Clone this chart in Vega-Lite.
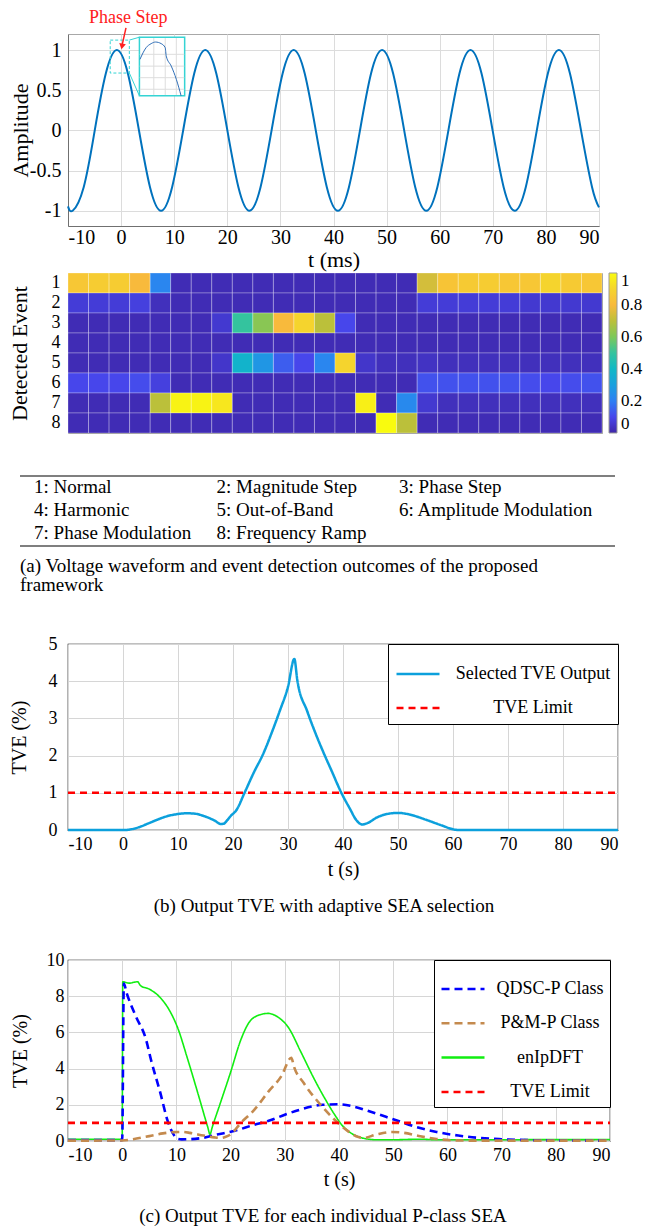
{
  "$schema": "https://vega.github.io/schema/vega-lite/v6.json",
  "padding": {"left": 7, "top": 8, "right": 0, "bottom": 0},
  "background": "white",
  "spacing": 0,
  "bounds": "flush",
  "resolve": {"scale": {"color": "independent", "strokeDash": "independent", "x": "independent", "y": "independent"}, "legend": {"color": "independent", "strokeDash": "independent"}},
  "config": {
    "font": "Liberation Serif",
    "view": {"stroke": null},
    "title": {"font": "Liberation Serif", "fontWeight": "normal", "color": "black"},
    "axis": {"labelFont": "Liberation Serif", "titleFont": "Liberation Serif", "labelColor": "black", "titleColor": "black", "titleFontWeight": "normal", "ticks": false, "domain": false, "gridColor": "#dcdcdc", "gridWidth": 1, "labelExpr": "'' + datum.value"},
    "legend": {"labelFont": "Liberation Serif", "labelColor": "black"}
  },
  "vconcat": [
    {
      "width": 531, "height": 192,
      "view": {"stroke": "#a8a8a8"},
      "layer": [
        {
          "data": {"values": [
            {"t": -10, "a": -0.946}, {"t": -9.125, "a": -1}, {"t": -7.044, "a": -0.707}, {"t": -4.963, "a": 0}, {"t": -2.881, "a": 0.707},
            {"t": -0.8, "a": 1}, {"t": 1.281, "a": 0.707}, {"t": 3.363, "a": 0}, {"t": 5.444, "a": -0.707}, {"t": 7.525, "a": -1},
            {"t": 9.606, "a": -0.707}, {"t": 11.688, "a": 0}, {"t": 13.769, "a": 0.707}, {"t": 15.85, "a": 1}, {"t": 17.931, "a": 0.707},
            {"t": 20.013, "a": 0}, {"t": 22.094, "a": -0.707}, {"t": 24.175, "a": -1}, {"t": 26.256, "a": -0.707}, {"t": 28.338, "a": 0},
            {"t": 30.419, "a": 0.707}, {"t": 32.5, "a": 1}, {"t": 34.581, "a": 0.707}, {"t": 36.663, "a": 0}, {"t": 38.744, "a": -0.707},
            {"t": 40.825, "a": -1}, {"t": 42.906, "a": -0.707}, {"t": 44.988, "a": 0}, {"t": 47.069, "a": 0.707}, {"t": 49.15, "a": 1},
            {"t": 51.231, "a": 0.707}, {"t": 53.313, "a": 0}, {"t": 55.394, "a": -0.707}, {"t": 57.475, "a": -1}, {"t": 59.556, "a": -0.707},
            {"t": 61.638, "a": 0}, {"t": 63.719, "a": 0.707}, {"t": 65.8, "a": 1}, {"t": 67.881, "a": 0.707}, {"t": 69.963, "a": 0},
            {"t": 72.044, "a": -0.707}, {"t": 74.125, "a": -1}, {"t": 76.206, "a": -0.707}, {"t": 78.288, "a": 0}, {"t": 80.369, "a": 0.707},
            {"t": 82.45, "a": 1}, {"t": 84.531, "a": 0.707}, {"t": 86.613, "a": 0}, {"t": 88.694, "a": -0.707}, {"t": 90, "a": -0.958}
          ]},
          "mark": {"type": "line", "interpolate": "natural", "color": "#0072BD", "strokeWidth": 2},
          "encoding": {
            "x": {"field": "t", "type": "quantitative", "scale": {"domain": [-10, 90], "nice": false, "zero": false},
              "axis": {"title": "t (ms)", "values": [-10, 0, 10, 20, 30, 40, 50, 60, 70, 80, 90], "labelFontSize": 20, "labelPadding": 1, "titleFontSize": 22, "titleBaseline": "middle", "titleY": 33, "domain": true, "domainColor": "#707070", "grid": true}},
            "y": {"field": "a", "type": "quantitative", "scale": {"domain": [-1.19, 1.2], "nice": false, "zero": false},
              "axis": {"title": "Amplitude", "values": [-1, -0.5, 0, 0.5, 1], "labelFontSize": 20, "labelPadding": 7, "titleFontSize": 22, "titleX": -48, "titleBaseline": "middle", "domain": true, "domainColor": "#707070", "grid": true}}
          }
        },
        {
          "data": {"values": [{"t": -2.05, "t2": 1.55, "a": 0.714, "a2": 1.124}]},
          "mark": {"type": "rect", "fill": null, "fillOpacity": 0, "stroke": "#35D4D4", "strokeWidth": 1, "strokeDash": [3, 2]},
          "encoding": {"x": {"field": "t", "type": "quantitative"}, "x2": {"field": "t2"}, "y": {"field": "a", "type": "quantitative"}, "y2": {"field": "a2"}}
        },
        {
          "data": {"values": [{"t": 1.55, "t2": 3.45, "a": 1.124, "a2": 1.16}, {"t": 1.55, "t2": 3.45, "a": 0.714, "a2": 0.43}]},
          "mark": {"type": "rule", "stroke": "#35D4D4", "strokeWidth": 1},
          "encoding": {"x": {"field": "t", "type": "quantitative"}, "x2": {"field": "t2"}, "y": {"field": "a", "type": "quantitative"}, "y2": {"field": "a2"}}
        },
        {
          "data": {"values": [{"t": 3.45, "t2": 11.97, "a": 0.43, "a2": 1.16}]},
          "mark": {"type": "rect", "fill": "white", "stroke": "#35D4D4", "strokeWidth": 1.5},
          "encoding": {"x": {"field": "t", "type": "quantitative"}, "x2": {"field": "t2"}, "y": {"field": "a", "type": "quantitative"}, "y2": {"field": "a2"}}
        },
        {
          "data": {"values": [
            {"t": 6.16, "t2": 6.16, "a": 0.44, "a2": 1.15}, {"t": 8.31, "t2": 8.31, "a": 0.44, "a2": 1.15}, {"t": 10.4, "t2": 10.4, "a": 0.44, "a2": 1.15},
            {"t": 3.5, "t2": 11.9, "a": 0.947, "a2": 0.947}, {"t": 3.5, "t2": 11.9, "a": 0.8, "a2": 0.8}, {"t": 3.5, "t2": 11.9, "a": 0.656, "a2": 0.656}, {"t": 3.5, "t2": 11.9, "a": 0.512, "a2": 0.512}
          ]},
          "mark": {"type": "rule", "stroke": "#dddddd", "strokeWidth": 1},
          "encoding": {"x": {"field": "t", "type": "quantitative"}, "x2": {"field": "t2"}, "y": {"field": "a", "type": "quantitative"}, "y2": {"field": "a2"}}
        },
        {
          "data": {"values": [
            {"t": 3.55, "a": 0.884}, {"t": 4.71, "a": 1.03}, {"t": 5.66, "a": 1.08}, {"t": 6.48, "a": 1.1}, {"t": 7.55, "a": 1.08},
            {"t": 8.31, "a": 1.03}, {"t": 8.5, "a": 0.925}, {"t": 9.45, "a": 0.8}, {"t": 10.4, "a": 0.636}, {"t": 11.3, "a": 0.43}
          ]},
          "mark": {"type": "line", "color": "#2F6FB8", "strokeWidth": 1, "interpolate": "monotone"},
          "encoding": {"x": {"field": "t", "type": "quantitative"}, "y": {"field": "a", "type": "quantitative"}}
        },
        {
          "data": {"values": [{"t": 0.92, "t2": 0.22, "a": 1.277, "a2": 1.07}]},
          "mark": {"type": "rule", "stroke": "#FF2020", "strokeWidth": 1.5},
          "encoding": {"x": {"field": "t", "type": "quantitative"}, "x2": {"field": "t2"}, "y": {"field": "a", "type": "quantitative"}, "y2": {"field": "a2"}}
        },
        {
          "data": {"values": [{"t": 0.17, "a": 1.045}]},
          "mark": {"type": "point", "shape": "triangle-down", "filled": true, "color": "#FF2020", "size": 45, "angle": 11, "opacity": 1},
          "encoding": {"x": {"field": "t", "type": "quantitative"}, "y": {"field": "a", "type": "quantitative"}}
        },
        {
          "data": {"values": [{"t": 1.36, "a": 1.4, "label": "Phase Step"}]},
          "mark": {"type": "text", "color": "#FF2020", "fontSize": 18, "font": "Liberation Serif", "baseline": "middle", "align": "center"},
          "encoding": {"x": {"field": "t", "type": "quantitative"}, "y": {"field": "a", "type": "quantitative"}, "text": {"field": "label"}}
        }
      ]
    },
    {"width": 10, "height": 47, "data": {"values": [{}]}, "mark": {"type": "text", "text": ""}},
    {
      "width": 534, "height": 160,
      "view": {"stroke": "#999999"},
      "data": {"values": [
        {"e":1,"c":1,"v":0.85},{"e":1,"c":2,"v":0.87},{"e":1,"c":3,"v":0.87},{"e":1,"c":4,"v":0.8},{"e":1,"c":5,"v":0.22},{"e":1,"c":6,"v":0.02},{"e":1,"c":7,"v":0.02},{"e":1,"c":8,"v":0.02},{"e":1,"c":9,"v":0.02},{"e":1,"c":10,"v":0.02},{"e":1,"c":11,"v":0.02},{"e":1,"c":12,"v":0.02},{"e":1,"c":13,"v":0.02},{"e":1,"c":14,"v":0.02},{"e":1,"c":15,"v":0.02},{"e":1,"c":16,"v":0.02},{"e":1,"c":17,"v":0.02},{"e":1,"c":18,"v":0.74},{"e":1,"c":19,"v":0.84},{"e":1,"c":20,"v":0.86},{"e":1,"c":21,"v":0.87},{"e":1,"c":22,"v":0.85},{"e":1,"c":23,"v":0.85},{"e":1,"c":24,"v":0.9},{"e":1,"c":25,"v":0.86},{"e":1,"c":26,"v":0.85},
        {"e":2,"c":1,"v":0.07},{"e":2,"c":2,"v":0.07},{"e":2,"c":3,"v":0.07},{"e":2,"c":4,"v":0.08},{"e":2,"c":5,"v":0.03},{"e":2,"c":6,"v":0.02},{"e":2,"c":7,"v":0.02},{"e":2,"c":8,"v":0.02},{"e":2,"c":9,"v":0.02},{"e":2,"c":10,"v":0.02},{"e":2,"c":11,"v":0.02},{"e":2,"c":12,"v":0.02},{"e":2,"c":13,"v":0.02},{"e":2,"c":14,"v":0.02},{"e":2,"c":15,"v":0.02},{"e":2,"c":16,"v":0.02},{"e":2,"c":17,"v":0.02},{"e":2,"c":18,"v":0.07},{"e":2,"c":19,"v":0.07},{"e":2,"c":20,"v":0.07},{"e":2,"c":21,"v":0.07},{"e":2,"c":22,"v":0.07},{"e":2,"c":23,"v":0.06},{"e":2,"c":24,"v":0.06},{"e":2,"c":25,"v":0.06},{"e":2,"c":26,"v":0.06},
        {"e":3,"c":1,"v":0.02},{"e":3,"c":2,"v":0.02},{"e":3,"c":3,"v":0.02},{"e":3,"c":4,"v":0.02},{"e":3,"c":5,"v":0.02},{"e":3,"c":6,"v":0.02},{"e":3,"c":7,"v":0.02},{"e":3,"c":8,"v":0.06},{"e":3,"c":9,"v":0.5},{"e":3,"c":10,"v":0.62},{"e":3,"c":11,"v":0.8},{"e":3,"c":12,"v":0.9},{"e":3,"c":13,"v":0.7},{"e":3,"c":14,"v":0.1},{"e":3,"c":15,"v":0.02},{"e":3,"c":16,"v":0.02},{"e":3,"c":17,"v":0.02},{"e":3,"c":18,"v":0.02},{"e":3,"c":19,"v":0.02},{"e":3,"c":20,"v":0.02},{"e":3,"c":21,"v":0.02},{"e":3,"c":22,"v":0.02},{"e":3,"c":23,"v":0.02},{"e":3,"c":24,"v":0.02},{"e":3,"c":25,"v":0.02},{"e":3,"c":26,"v":0.02},
        {"e":4,"c":1,"v":0.02},{"e":4,"c":2,"v":0.02},{"e":4,"c":3,"v":0.02},{"e":4,"c":4,"v":0.02},{"e":4,"c":5,"v":0.02},{"e":4,"c":6,"v":0.02},{"e":4,"c":7,"v":0.02},{"e":4,"c":8,"v":0.02},{"e":4,"c":9,"v":0.02},{"e":4,"c":10,"v":0.02},{"e":4,"c":11,"v":0.02},{"e":4,"c":12,"v":0.02},{"e":4,"c":13,"v":0.02},{"e":4,"c":14,"v":0.02},{"e":4,"c":15,"v":0.02},{"e":4,"c":16,"v":0.02},{"e":4,"c":17,"v":0.02},{"e":4,"c":18,"v":0.02},{"e":4,"c":19,"v":0.02},{"e":4,"c":20,"v":0.02},{"e":4,"c":21,"v":0.02},{"e":4,"c":22,"v":0.02},{"e":4,"c":23,"v":0.02},{"e":4,"c":24,"v":0.02},{"e":4,"c":25,"v":0.02},{"e":4,"c":26,"v":0.02},
        {"e":5,"c":1,"v":0.02},{"e":5,"c":2,"v":0.02},{"e":5,"c":3,"v":0.02},{"e":5,"c":4,"v":0.02},{"e":5,"c":5,"v":0.02},{"e":5,"c":6,"v":0.02},{"e":5,"c":7,"v":0.02},{"e":5,"c":8,"v":0.05},{"e":5,"c":9,"v":0.38},{"e":5,"c":10,"v":0.27},{"e":5,"c":11,"v":0.14},{"e":5,"c":12,"v":0.1},{"e":5,"c":13,"v":0.22},{"e":5,"c":14,"v":0.9},{"e":5,"c":15,"v":0.05},{"e":5,"c":16,"v":0.03},{"e":5,"c":17,"v":0.03},{"e":5,"c":18,"v":0.04},{"e":5,"c":19,"v":0.03},{"e":5,"c":20,"v":0.03},{"e":5,"c":21,"v":0.03},{"e":5,"c":22,"v":0.03},{"e":5,"c":23,"v":0.03},{"e":5,"c":24,"v":0.03},{"e":5,"c":25,"v":0.03},{"e":5,"c":26,"v":0.03},
        {"e":6,"c":1,"v":0.1},{"e":6,"c":2,"v":0.1},{"e":6,"c":3,"v":0.1},{"e":6,"c":4,"v":0.11},{"e":6,"c":5,"v":0.08},{"e":6,"c":6,"v":0.02},{"e":6,"c":7,"v":0.02},{"e":6,"c":8,"v":0.02},{"e":6,"c":9,"v":0.02},{"e":6,"c":10,"v":0.02},{"e":6,"c":11,"v":0.02},{"e":6,"c":12,"v":0.02},{"e":6,"c":13,"v":0.02},{"e":6,"c":14,"v":0.02},{"e":6,"c":15,"v":0.02},{"e":6,"c":16,"v":0.02},{"e":6,"c":17,"v":0.02},{"e":6,"c":18,"v":0.12},{"e":6,"c":19,"v":0.12},{"e":6,"c":20,"v":0.12},{"e":6,"c":21,"v":0.12},{"e":6,"c":22,"v":0.12},{"e":6,"c":23,"v":0.11},{"e":6,"c":24,"v":0.1},{"e":6,"c":25,"v":0.11},{"e":6,"c":26,"v":0.12},
        {"e":7,"c":1,"v":0.02},{"e":7,"c":2,"v":0.02},{"e":7,"c":3,"v":0.02},{"e":7,"c":4,"v":0.02},{"e":7,"c":5,"v":0.7},{"e":7,"c":6,"v":0.98},{"e":7,"c":7,"v":0.98},{"e":7,"c":8,"v":0.95},{"e":7,"c":9,"v":0.02},{"e":7,"c":10,"v":0.02},{"e":7,"c":11,"v":0.02},{"e":7,"c":12,"v":0.02},{"e":7,"c":13,"v":0.02},{"e":7,"c":14,"v":0.02},{"e":7,"c":15,"v":0.97},{"e":7,"c":16,"v":0.02},{"e":7,"c":17,"v":0.23},{"e":7,"c":18,"v":0.06},{"e":7,"c":19,"v":0.03},{"e":7,"c":20,"v":0.03},{"e":7,"c":21,"v":0.03},{"e":7,"c":22,"v":0.03},{"e":7,"c":23,"v":0.03},{"e":7,"c":24,"v":0.03},{"e":7,"c":25,"v":0.03},{"e":7,"c":26,"v":0.03},
        {"e":8,"c":1,"v":0.02},{"e":8,"c":2,"v":0.02},{"e":8,"c":3,"v":0.02},{"e":8,"c":4,"v":0.02},{"e":8,"c":5,"v":0.02},{"e":8,"c":6,"v":0.02},{"e":8,"c":7,"v":0.02},{"e":8,"c":8,"v":0.02},{"e":8,"c":9,"v":0.02},{"e":8,"c":10,"v":0.02},{"e":8,"c":11,"v":0.02},{"e":8,"c":12,"v":0.02},{"e":8,"c":13,"v":0.02},{"e":8,"c":14,"v":0.02},{"e":8,"c":15,"v":0.02},{"e":8,"c":16,"v":1.0},{"e":8,"c":17,"v":0.7},{"e":8,"c":18,"v":0.02},{"e":8,"c":19,"v":0.02},{"e":8,"c":20,"v":0.02},{"e":8,"c":21,"v":0.02},{"e":8,"c":22,"v":0.02},{"e":8,"c":23,"v":0.02},{"e":8,"c":24,"v":0.02},{"e":8,"c":25,"v":0.02},{"e":8,"c":26,"v":0.02}
      ]},
      "mark": {"type": "rect", "stroke": "#ffffff", "strokeOpacity": 0.28, "strokeWidth": 1},
      "encoding": {
        "x": {"field": "c", "type": "ordinal", "axis": null, "scale": {"paddingInner": 0, "paddingOuter": 0}},
        "y": {"field": "e", "type": "ordinal", "scale": {"paddingInner": 0, "paddingOuter": 0},
          "axis": {"title": "Detected Event", "labelFontSize": 18, "labelPadding": 8, "labelAngle": 0, "titleFontSize": 22, "titleX": -49, "titleBaseline": "middle"}},
        "color": {"field": "v", "type": "quantitative",
          "scale": {"domain": [0, 0.1, 0.2, 0.3, 0.4, 0.5, 0.6, 0.7, 0.8, 0.9, 1], "range": ["#3E26A8", "#4746EB", "#2E7FF3", "#1AA0DE", "#10B8C6", "#34C39E", "#7CC85A", "#BBC03A", "#F8BA3C", "#F5D42D", "#F9FB0E"], "interpolate": "rgb"},
          "legend": {"title": null, "orient": "right", "offset": 7, "padding": 0, "direction": "vertical", "gradientLength": 160, "gradientThickness": 8, "values": [0, 0.2, 0.4, 0.6, 0.8, 1], "labelExpr": "'' + datum.value", "labelFontSize": 17, "labelOffset": 4, "labelBaseline": "middle", "gradientStrokeColor": "#999999", "gradientStrokeWidth": 1}}
      }
    },
    {"width": 10, "height": 43, "data": {"values": [{}]}, "mark": {"type": "text", "text": ""}},
    {
      "width": 547, "height": 70,
      "title": {"text": ["(a) Voltage waveform and event detection outcomes of the proposed", "framework"], "orient": "bottom", "anchor": "start", "frame": "group", "dx": -48, "offset": 10, "fontSize": 19, "lineHeight": 19, "font": "Liberation Serif", "fontWeight": "normal"},
      "layer": [
        {
          "data": {"values": [
            {"row": 1, "col": 1, "label": "1: Normal"}, {"row": 1, "col": 2, "label": "2: Magnitude Step"}, {"row": 1, "col": 3, "label": "3: Phase Step"},
            {"row": 2, "col": 1, "label": "4: Harmonic"}, {"row": 2, "col": 2, "label": "5: Out-of-Band"}, {"row": 2, "col": 3, "label": "6: Amplitude Modulation"},
            {"row": 3, "col": 1, "label": "7: Phase Modulation"}, {"row": 3, "col": 2, "label": "8: Frequency Ramp"}
          ]},
          "mark": {"type": "text", "align": "left", "baseline": "middle", "font": "Liberation Serif", "fontSize": 19, "color": "black"},
          "encoding": {
            "x": {"field": "col", "type": "quantitative", "scale": {"domain": [1.186, 4.183], "nice": false, "zero": false}, "axis": null},
            "y": {"field": "row", "type": "quantitative", "scale": {"domain": [0.5, 3.55], "reverse": true, "nice": false, "zero": false}, "axis": null},
            "text": {"field": "label"}
          }
        },
        {
          "data": {"values": [{}]},
          "mark": {"type": "rule", "color": "black", "strokeWidth": 1.2},
          "encoding": {"x": {"datum": 0.923, "type": "quantitative"}, "x2": {"datum": 4.183}, "y": {"datum": 0.5, "type": "quantitative"}}
        },
        {
          "data": {"values": [{}]},
          "mark": {"type": "rule", "color": "black", "strokeWidth": 1.2},
          "encoding": {"x": {"datum": 0.923, "type": "quantitative"}, "x2": {"datum": 4.183}, "y": {"datum": 3.55, "type": "quantitative"}}
        }
      ]
    },
    {"width": 10, "height": 98, "data": {"values": [{}]}, "mark": {"type": "text", "text": ""}},
    {
      "width": 550, "height": 186,
      "view": {"stroke": "black", "strokeWidth": 1.2},
      "title": {"text": "(b) Output TVE with adaptive SEA selection", "orient": "bottom", "anchor": "middle", "frame": "group", "dx": -19, "offset": 18, "fontSize": 19, "font": "Liberation Serif", "fontWeight": "normal"},
      "data": {"values": [
        {"t": -10, "v": 0, "s": "Selected TVE Output"}, {"t": 0.5, "v": 0, "s": "Selected TVE Output"}, {"t": 1.5, "v": 0.02, "s": "Selected TVE Output"},
        {"t": 2.8, "v": 0.07, "s": "Selected TVE Output"}, {"t": 4.5, "v": 0.17, "s": "Selected TVE Output"}, {"t": 5.8, "v": 0.25, "s": "Selected TVE Output"},
        {"t": 8, "v": 0.37, "s": "Selected TVE Output"}, {"t": 10, "v": 0.43, "s": "Selected TVE Output"}, {"t": 11.5, "v": 0.45, "s": "Selected TVE Output"},
        {"t": 13, "v": 0.44, "s": "Selected TVE Output"}, {"t": 14.8, "v": 0.37, "s": "Selected TVE Output"}, {"t": 16.7, "v": 0.25, "s": "Selected TVE Output"},
        {"t": 17.8, "v": 0.16, "s": "Selected TVE Output"}, {"t": 18.3, "v": 0.17, "s": "Selected TVE Output"}, {"t": 19, "v": 0.27, "s": "Selected TVE Output"},
        {"t": 19.6, "v": 0.38, "s": "Selected TVE Output"}, {"t": 20.6, "v": 0.53, "s": "Selected TVE Output"}, {"t": 22.1, "v": 1.0, "s": "Selected TVE Output"},
        {"t": 23.8, "v": 1.55, "s": "Selected TVE Output"}, {"t": 25.5, "v": 2.05, "s": "Selected TVE Output"}, {"t": 27, "v": 2.6, "s": "Selected TVE Output"},
        {"t": 28.5, "v": 3.2, "s": "Selected TVE Output"}, {"t": 30, "v": 3.85, "s": "Selected TVE Output"}, {"t": 31.15, "v": 4.6, "s": "Selected TVE Output"},
        {"t": 31.7, "v": 4.02, "s": "Selected TVE Output"}, {"t": 33.5, "v": 3.19, "s": "Selected TVE Output"}, {"t": 35, "v": 2.6, "s": "Selected TVE Output"},
        {"t": 36.4, "v": 2.1, "s": "Selected TVE Output"}, {"t": 37.9, "v": 1.6, "s": "Selected TVE Output"}, {"t": 39.7, "v": 1.0, "s": "Selected TVE Output"},
        {"t": 41.3, "v": 0.56, "s": "Selected TVE Output"}, {"t": 42.4, "v": 0.27, "s": "Selected TVE Output"}, {"t": 43.5, "v": 0.15, "s": "Selected TVE Output"},
        {"t": 44.5, "v": 0.19, "s": "Selected TVE Output"}, {"t": 46.2, "v": 0.34, "s": "Selected TVE Output"}, {"t": 48, "v": 0.43, "s": "Selected TVE Output"},
        {"t": 50, "v": 0.46, "s": "Selected TVE Output"}, {"t": 52, "v": 0.42, "s": "Selected TVE Output"}, {"t": 55, "v": 0.28, "s": "Selected TVE Output"},
        {"t": 58, "v": 0.12, "s": "Selected TVE Output"}, {"t": 60, "v": 0.02, "s": "Selected TVE Output"}, {"t": 61, "v": 0, "s": "Selected TVE Output"},
        {"t": 90, "v": 0, "s": "Selected TVE Output"},
        {"t": -10, "v": 1, "s": "TVE Limit"}, {"t": 90, "v": 1, "s": "TVE Limit"}
      ]},
      "mark": {"type": "line", "interpolate": "monotone", "strokeWidth": 2.5},
      "encoding": {
        "x": {"field": "t", "type": "quantitative", "scale": {"domain": [-10, 90], "nice": false, "zero": false},
          "axis": {"title": "t (s)", "values": [-10, 0, 10, 20, 30, 40, 50, 60, 70, 80, 90], "grid": true, "gridColor": "#d6d6d6", "labelFontSize": 18, "labelPadding": 5, "titleFontSize": 20, "titleBaseline": "middle", "titleY": 39}},
        "y": {"field": "v", "type": "quantitative", "scale": {"domain": [0, 5], "nice": false, "zero": false},
          "axis": {"title": "TVE (%)", "values": [0, 1, 2, 3, 4, 5], "grid": true, "gridColor": "#d6d6d6", "labelFontSize": 18, "labelPadding": 11, "titleFontSize": 20, "titleX": -49, "titleBaseline": "middle"}},
        "color": {"field": "s", "type": "nominal", "scale": {"domain": ["Selected TVE Output", "TVE Limit"], "range": ["#0CA0DC", "#FF0000"]},
          "legend": {"title": null, "orient": "top-right", "offset": 0, "fillColor": "white", "strokeColor": "black", "padding": 7, "symbolType": "stroke", "symbolSize": 1849, "symbolStrokeWidth": 2.5, "labelAlign": "center", "labelOffset": 92, "labelFontSize": 18, "rowPadding": 2, "labelLimit": 400}},
        "strokeDash": {"field": "s", "type": "nominal", "scale": {"domain": ["Selected TVE Output", "TVE Limit"], "range": [[1, 0], [7, 5]]},
          "legend": {"title": null, "orient": "top-right", "offset": 0, "fillColor": "white", "strokeColor": "black", "padding": 7, "symbolType": "stroke", "symbolSize": 1849, "symbolStrokeWidth": 2.5, "labelAlign": "center", "labelOffset": 92, "labelFontSize": 18, "rowPadding": 2, "labelLimit": 400}}
      }
    },
    {"width": 10, "height": 130, "data": {"values": [{}]}, "mark": {"type": "text", "text": ""}},
    {
      "width": 542, "height": 181,
      "view": {"stroke": "black", "strokeWidth": 1.2},
      "title": {"text": "(c) Output TVE for each individual P-class SEA", "orient": "bottom", "anchor": "middle", "frame": "group", "dx": -16, "offset": 18, "fontSize": 19, "font": "Liberation Serif", "fontWeight": "normal"},
      "data": {"values": [
        {"t": -10, "v": 0.1, "s": "enIpDFT"}, {"t": 0, "v": 0.1, "s": "enIpDFT"}, {"t": 0.1, "v": 8.8, "s": "enIpDFT"}, {"t": 1.25, "v": 8.72, "s": "enIpDFT"},
        {"t": 2.2, "v": 8.77, "s": "enIpDFT"}, {"t": 2.8, "v": 8.8, "s": "enIpDFT"}, {"t": 3.4, "v": 8.58, "s": "enIpDFT"}, {"t": 5, "v": 8.39, "s": "enIpDFT"},
        {"t": 6.9, "v": 7.96, "s": "enIpDFT"}, {"t": 8.75, "v": 7.2, "s": "enIpDFT"}, {"t": 10.3, "v": 6.2, "s": "enIpDFT"}, {"t": 12, "v": 4.6, "s": "enIpDFT"},
        {"t": 14, "v": 2.6, "s": "enIpDFT"}, {"t": 15.8, "v": 0.75, "s": "enIpDFT"}, {"t": 16.2, "v": 0.36, "s": "enIpDFT"}, {"t": 16.6, "v": 0.75, "s": "enIpDFT"},
        {"t": 18, "v": 2.0, "s": "enIpDFT"}, {"t": 20, "v": 3.8, "s": "enIpDFT"}, {"t": 21.9, "v": 5.6, "s": "enIpDFT"}, {"t": 23.4, "v": 6.55, "s": "enIpDFT"},
        {"t": 25, "v": 6.93, "s": "enIpDFT"}, {"t": 26.9, "v": 7.05, "s": "enIpDFT"}, {"t": 28.75, "v": 6.84, "s": "enIpDFT"}, {"t": 30.6, "v": 6.3, "s": "enIpDFT"},
        {"t": 33, "v": 4.9, "s": "enIpDFT"}, {"t": 35.3, "v": 3.5, "s": "enIpDFT"}, {"t": 37.6, "v": 2.24, "s": "enIpDFT"}, {"t": 39.1, "v": 1.5, "s": "enIpDFT"},
        {"t": 40.6, "v": 0.86, "s": "enIpDFT"}, {"t": 42.1, "v": 0.46, "s": "enIpDFT"}, {"t": 43.7, "v": 0.22, "s": "enIpDFT"}, {"t": 45.2, "v": 0.11, "s": "enIpDFT"},
        {"t": 47, "v": 0.07, "s": "enIpDFT"}, {"t": 50, "v": 0.07, "s": "enIpDFT"}, {"t": 55, "v": 0.1, "s": "enIpDFT"}, {"t": 58, "v": 0.07, "s": "enIpDFT"}, {"t": 90, "v": 0.08, "s": "enIpDFT"},
        {"t": -10, "v": 0.05, "s": "QDSC-P Class"}, {"t": 0, "v": 0.05, "s": "QDSC-P Class"}, {"t": 0.3, "v": 8.7, "s": "QDSC-P Class"}, {"t": 0.8, "v": 8.2, "s": "QDSC-P Class"},
        {"t": 2.5, "v": 6.9, "s": "QDSC-P Class"}, {"t": 4.4, "v": 5.6, "s": "QDSC-P Class"}, {"t": 5.3, "v": 4.5, "s": "QDSC-P Class"}, {"t": 7, "v": 2.7, "s": "QDSC-P Class"},
        {"t": 8.4, "v": 1.1, "s": "QDSC-P Class"}, {"t": 9.5, "v": 0.35, "s": "QDSC-P Class"}, {"t": 10.2, "v": 0.12, "s": "QDSC-P Class"}, {"t": 11, "v": 0.09, "s": "QDSC-P Class"},
        {"t": 14.4, "v": 0.15, "s": "QDSC-P Class"}, {"t": 17.5, "v": 0.36, "s": "QDSC-P Class"}, {"t": 20.6, "v": 0.55, "s": "QDSC-P Class"}, {"t": 24.4, "v": 0.9, "s": "QDSC-P Class"},
        {"t": 26.9, "v": 1.1, "s": "QDSC-P Class"}, {"t": 30, "v": 1.45, "s": "QDSC-P Class"}, {"t": 33, "v": 1.75, "s": "QDSC-P Class"}, {"t": 37, "v": 2.0, "s": "QDSC-P Class"},
        {"t": 40, "v": 2.03, "s": "QDSC-P Class"}, {"t": 43, "v": 1.88, "s": "QDSC-P Class"}, {"t": 46, "v": 1.6, "s": "QDSC-P Class"}, {"t": 50, "v": 1.2, "s": "QDSC-P Class"},
        {"t": 54, "v": 0.8, "s": "QDSC-P Class"}, {"t": 58, "v": 0.5, "s": "QDSC-P Class"}, {"t": 62, "v": 0.3, "s": "QDSC-P Class"}, {"t": 66, "v": 0.17, "s": "QDSC-P Class"},
        {"t": 70, "v": 0.1, "s": "QDSC-P Class"}, {"t": 75, "v": 0.05, "s": "QDSC-P Class"}, {"t": 80, "v": 0.03, "s": "QDSC-P Class"}, {"t": 90, "v": 0.02, "s": "QDSC-P Class"},
        {"t": -10, "v": 0.02, "s": "P&M-P Class"}, {"t": 0, "v": 0.03, "s": "P&M-P Class"}, {"t": 2, "v": 0.1, "s": "P&M-P Class"}, {"t": 5, "v": 0.27, "s": "P&M-P Class"},
        {"t": 7.5, "v": 0.42, "s": "P&M-P Class"}, {"t": 9.5, "v": 0.49, "s": "P&M-P Class"}, {"t": 11, "v": 0.5, "s": "P&M-P Class"}, {"t": 12.5, "v": 0.45, "s": "P&M-P Class"},
        {"t": 15, "v": 0.3, "s": "P&M-P Class"}, {"t": 17, "v": 0.2, "s": "P&M-P Class"}, {"t": 18.2, "v": 0.17, "s": "P&M-P Class"}, {"t": 19, "v": 0.22, "s": "P&M-P Class"},
        {"t": 20, "v": 0.36, "s": "P&M-P Class"}, {"t": 21.9, "v": 1.0, "s": "P&M-P Class"}, {"t": 24.4, "v": 1.73, "s": "P&M-P Class"}, {"t": 26.9, "v": 2.7, "s": "P&M-P Class"},
        {"t": 29.4, "v": 3.6, "s": "P&M-P Class"}, {"t": 31.2, "v": 4.6, "s": "P&M-P Class"}, {"t": 31.7, "v": 4.1, "s": "P&M-P Class"}, {"t": 33.5, "v": 3.2, "s": "P&M-P Class"},
        {"t": 36.6, "v": 2.0, "s": "P&M-P Class"}, {"t": 39.1, "v": 1.2, "s": "P&M-P Class"}, {"t": 41.4, "v": 0.6, "s": "P&M-P Class"}, {"t": 43.6, "v": 0.22, "s": "P&M-P Class"},
        {"t": 44.5, "v": 0.17, "s": "P&M-P Class"}, {"t": 46.8, "v": 0.35, "s": "P&M-P Class"}, {"t": 49.8, "v": 0.5, "s": "P&M-P Class"}, {"t": 52, "v": 0.45, "s": "P&M-P Class"},
        {"t": 55, "v": 0.26, "s": "P&M-P Class"}, {"t": 58, "v": 0.11, "s": "P&M-P Class"}, {"t": 61, "v": 0.04, "s": "P&M-P Class"}, {"t": 65, "v": 0.02, "s": "P&M-P Class"}, {"t": 90, "v": 0.02, "s": "P&M-P Class"},
        {"t": -10, "v": 1, "s": "TVE Limit"}, {"t": 90, "v": 1, "s": "TVE Limit"}
      ]},
      "encoding": {
        "x": {"field": "t", "type": "quantitative", "scale": {"domain": [-10, 90], "nice": false, "zero": false},
          "axis": {"title": "t (s)", "values": [-10, 0, 10, 20, 30, 40, 50, 60, 70, 80, 90], "grid": true, "gridColor": "#d6d6d6", "labelFontSize": 18, "labelPadding": 5, "titleFontSize": 20, "titleBaseline": "middle", "titleY": 38}},
        "y": {"field": "v", "type": "quantitative", "scale": {"domain": [0, 10], "nice": false, "zero": false},
          "axis": {"title": "TVE (%)", "values": [0, 2, 4, 6, 8, 10], "grid": true, "gridColor": "#d6d6d6", "labelFontSize": 18, "labelPadding": 4, "titleFontSize": 20, "titleX": -48, "titleBaseline": "middle"}},
        "color": {"field": "s", "type": "nominal", "scale": {"domain": ["QDSC-P Class", "P&M-P Class", "enIpDFT", "TVE Limit"], "range": ["#0000FF", "#C48A4E", "#11EE11", "#FF0000"]},
          "legend": {"title": null, "orient": "top-right", "offset": 0, "fillColor": "white", "strokeColor": "black", "padding": 6, "symbolType": "stroke", "symbolSize": 1849, "symbolStrokeWidth": 2.5, "labelAlign": "center", "labelOffset": 64, "labelFontSize": 18, "rowPadding": 2.3, "labelLimit": 400}},
        "strokeDash": {"field": "s", "type": "nominal", "scale": {"domain": ["QDSC-P Class", "P&M-P Class", "enIpDFT", "TVE Limit"], "range": [[8, 5], [8, 5], [1, 0], [7, 5]]},
          "legend": {"title": null, "orient": "top-right", "offset": 0, "fillColor": "white", "strokeColor": "black", "padding": 6, "symbolType": "stroke", "symbolSize": 1849, "symbolStrokeWidth": 2.5, "labelAlign": "center", "labelOffset": 64, "labelFontSize": 18, "rowPadding": 2.3, "labelLimit": 400}}
      },
      "layer": [
        {"transform": [{"filter": "datum.s == 'enIpDFT'"}], "mark": {"type": "line", "interpolate": "monotone", "strokeWidth": 1.6}},
        {"transform": [{"filter": "datum.s != 'enIpDFT'"}], "mark": {"type": "line", "interpolate": "monotone", "strokeWidth": 2.6}}
      ]
    }
  ]
}
